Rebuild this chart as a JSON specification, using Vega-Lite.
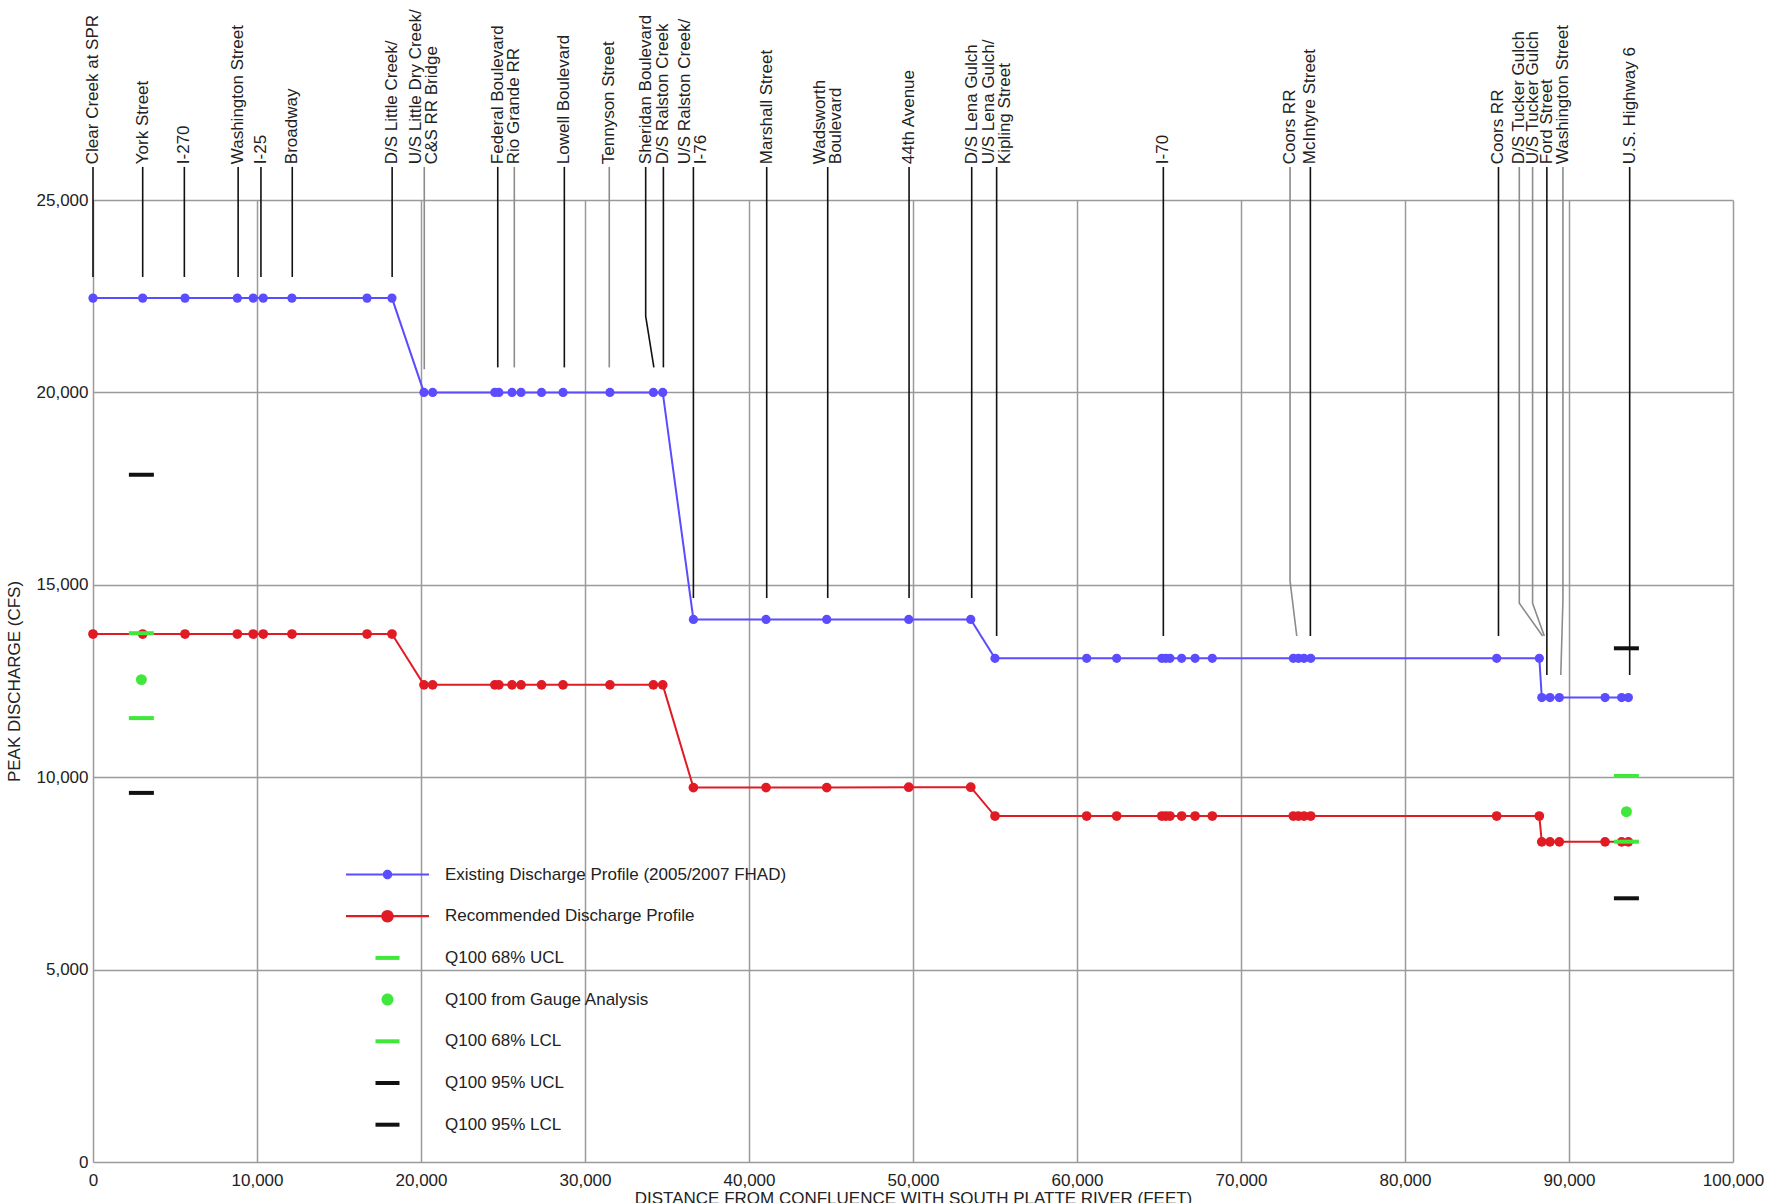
{
  "$schema": "https://vega.github.io/schema/vega-lite/v6.json",
  "width": 1640,
  "height": 962,
  "autosize": {"type": "none"},
  "padding": {"left": 93, "top": 200, "right": 43, "bottom": 41},
  "background": "white",
  "config": {
    "font": "Liberation Sans",
    "view": {"stroke": null},
    "axis": {
      "labelFont": "Liberation Sans",
      "labelFontSize": 17,
      "labelColor": "#222",
      "titleFont": "Liberation Sans",
      "titleFontSize": 17,
      "titleFontWeight": "normal",
      "titleColor": "#222",
      "grid": true,
      "gridColor": "#9a9a9a",
      "gridWidth": 1.5,
      "ticks": false,
      "domain": false
    }
  },
  "datasets": {
    "profiles": [
      {"series": "existing", "x": 0, "y": 22450}, {"series": "existing", "x": 3030, "y": 22450}, {"series": "existing", "x": 5610, "y": 22450},
      {"series": "existing", "x": 8800, "y": 22450}, {"series": "existing", "x": 9770, "y": 22450}, {"series": "existing", "x": 10380, "y": 22450},
      {"series": "existing", "x": 12130, "y": 22450}, {"series": "existing", "x": 16710, "y": 22450}, {"series": "existing", "x": 18230, "y": 22450},
      {"series": "existing", "x": 20180, "y": 20000}, {"series": "existing", "x": 20710, "y": 20000}, {"series": "existing", "x": 24500, "y": 20000},
      {"series": "existing", "x": 24750, "y": 20000}, {"series": "existing", "x": 25550, "y": 20000}, {"series": "existing", "x": 26100, "y": 20000},
      {"series": "existing", "x": 27350, "y": 20000}, {"series": "existing", "x": 28660, "y": 20000}, {"series": "existing", "x": 31520, "y": 20000},
      {"series": "existing", "x": 34170, "y": 20000}, {"series": "existing", "x": 34740, "y": 20000},
      {"series": "existing", "x": 36610, "y": 14100}, {"series": "existing", "x": 41040, "y": 14100}, {"series": "existing", "x": 44740, "y": 14100},
      {"series": "existing", "x": 49740, "y": 14100}, {"series": "existing", "x": 53520, "y": 14100},
      {"series": "existing", "x": 55000, "y": 13090}, {"series": "existing", "x": 60590, "y": 13090}, {"series": "existing", "x": 62420, "y": 13090},
      {"series": "existing", "x": 65170, "y": 13090}, {"series": "existing", "x": 65410, "y": 13090}, {"series": "existing", "x": 65670, "y": 13090},
      {"series": "existing", "x": 66380, "y": 13090}, {"series": "existing", "x": 67200, "y": 13090}, {"series": "existing", "x": 68250, "y": 13090},
      {"series": "existing", "x": 73190, "y": 13090}, {"series": "existing", "x": 73500, "y": 13090}, {"series": "existing", "x": 73840, "y": 13090},
      {"series": "existing", "x": 74250, "y": 13090}, {"series": "existing", "x": 85590, "y": 13090}, {"series": "existing", "x": 88190, "y": 13090},
      {"series": "existing", "x": 88340, "y": 12070}, {"series": "existing", "x": 88840, "y": 12070}, {"series": "existing", "x": 89410, "y": 12070},
      {"series": "existing", "x": 92200, "y": 12070}, {"series": "existing", "x": 93210, "y": 12070}, {"series": "existing", "x": 93620, "y": 12070},
      {"series": "recommended", "x": 0, "y": 13720}, {"series": "recommended", "x": 3030, "y": 13720}, {"series": "recommended", "x": 5610, "y": 13720},
      {"series": "recommended", "x": 8800, "y": 13720}, {"series": "recommended", "x": 9770, "y": 13720}, {"series": "recommended", "x": 10380, "y": 13720},
      {"series": "recommended", "x": 12130, "y": 13720}, {"series": "recommended", "x": 16710, "y": 13720}, {"series": "recommended", "x": 18230, "y": 13720},
      {"series": "recommended", "x": 20180, "y": 12400}, {"series": "recommended", "x": 20710, "y": 12400}, {"series": "recommended", "x": 24500, "y": 12400},
      {"series": "recommended", "x": 24750, "y": 12400}, {"series": "recommended", "x": 25550, "y": 12400}, {"series": "recommended", "x": 26100, "y": 12400},
      {"series": "recommended", "x": 27350, "y": 12400}, {"series": "recommended", "x": 28660, "y": 12400}, {"series": "recommended", "x": 31520, "y": 12400},
      {"series": "recommended", "x": 34170, "y": 12400}, {"series": "recommended", "x": 34740, "y": 12400},
      {"series": "recommended", "x": 36610, "y": 9730}, {"series": "recommended", "x": 41040, "y": 9730}, {"series": "recommended", "x": 44740, "y": 9730},
      {"series": "recommended", "x": 49740, "y": 9740}, {"series": "recommended", "x": 53520, "y": 9740},
      {"series": "recommended", "x": 55000, "y": 8990}, {"series": "recommended", "x": 60590, "y": 8990}, {"series": "recommended", "x": 62420, "y": 8990},
      {"series": "recommended", "x": 65170, "y": 8990}, {"series": "recommended", "x": 65410, "y": 8990}, {"series": "recommended", "x": 65670, "y": 8990},
      {"series": "recommended", "x": 66380, "y": 8990}, {"series": "recommended", "x": 67200, "y": 8990}, {"series": "recommended", "x": 68250, "y": 8990},
      {"series": "recommended", "x": 73190, "y": 8990}, {"series": "recommended", "x": 73500, "y": 8990}, {"series": "recommended", "x": 73840, "y": 8990},
      {"series": "recommended", "x": 74250, "y": 8990}, {"series": "recommended", "x": 85590, "y": 8990}, {"series": "recommended", "x": 88190, "y": 8990},
      {"series": "recommended", "x": 88340, "y": 8320}, {"series": "recommended", "x": 88840, "y": 8320}, {"series": "recommended", "x": 89410, "y": 8320},
      {"series": "recommended", "x": 92200, "y": 8320}, {"series": "recommended", "x": 93210, "y": 8320}, {"series": "recommended", "x": 93620, "y": 8320}
    ],
    "leaders": [
      {"id": 1, "tone": "black", "ord": 1, "x": 0, "y": 25860}, {"id": 1, "tone": "black", "ord": 2, "x": 0, "y": 23000},
      {"id": 2, "tone": "black", "ord": 1, "x": 3030, "y": 25860}, {"id": 2, "tone": "black", "ord": 2, "x": 3030, "y": 23000},
      {"id": 3, "tone": "black", "ord": 1, "x": 5570, "y": 25860}, {"id": 3, "tone": "black", "ord": 2, "x": 5570, "y": 23000},
      {"id": 4, "tone": "black", "ord": 1, "x": 8850, "y": 25860}, {"id": 4, "tone": "black", "ord": 2, "x": 8850, "y": 23000},
      {"id": 5, "tone": "black", "ord": 1, "x": 10240, "y": 25860}, {"id": 5, "tone": "black", "ord": 2, "x": 10240, "y": 23000},
      {"id": 6, "tone": "black", "ord": 1, "x": 12150, "y": 25860}, {"id": 6, "tone": "black", "ord": 2, "x": 12150, "y": 23000},
      {"id": 7, "tone": "black", "ord": 1, "x": 18240, "y": 25860}, {"id": 7, "tone": "black", "ord": 2, "x": 18240, "y": 23000},
      {"id": 8, "tone": "gray", "ord": 1, "x": 20200, "y": 25860}, {"id": 8, "tone": "gray", "ord": 2, "x": 20200, "y": 20600},
      {"id": 9, "tone": "black", "ord": 1, "x": 24680, "y": 25860}, {"id": 9, "tone": "black", "ord": 2, "x": 24680, "y": 20650},
      {"id": 10, "tone": "gray", "ord": 1, "x": 25690, "y": 25860}, {"id": 10, "tone": "gray", "ord": 2, "x": 25690, "y": 20650},
      {"id": 11, "tone": "black", "ord": 1, "x": 28740, "y": 25860}, {"id": 11, "tone": "black", "ord": 2, "x": 28740, "y": 20650},
      {"id": 12, "tone": "gray", "ord": 1, "x": 31480, "y": 25860}, {"id": 12, "tone": "gray", "ord": 2, "x": 31480, "y": 20650},
      {"id": 13, "tone": "black", "ord": 1, "x": 33700, "y": 25860}, {"id": 13, "tone": "black", "ord": 2, "x": 33700, "y": 21980}, {"id": 13, "tone": "black", "ord": 3, "x": 34200, "y": 20650},
      {"id": 14, "tone": "black", "ord": 1, "x": 34780, "y": 25860}, {"id": 14, "tone": "black", "ord": 2, "x": 34780, "y": 20650},
      {"id": 15, "tone": "black", "ord": 1, "x": 36610, "y": 25860}, {"id": 15, "tone": "black", "ord": 2, "x": 36610, "y": 14660},
      {"id": 16, "tone": "black", "ord": 1, "x": 41080, "y": 25860}, {"id": 16, "tone": "black", "ord": 2, "x": 41080, "y": 14660},
      {"id": 17, "tone": "black", "ord": 1, "x": 44800, "y": 25860}, {"id": 17, "tone": "black", "ord": 2, "x": 44800, "y": 14660},
      {"id": 18, "tone": "black", "ord": 1, "x": 49760, "y": 25860}, {"id": 18, "tone": "black", "ord": 2, "x": 49760, "y": 14660},
      {"id": 19, "tone": "black", "ord": 1, "x": 53580, "y": 25860}, {"id": 19, "tone": "black", "ord": 2, "x": 53580, "y": 14660},
      {"id": 20, "tone": "black", "ord": 1, "x": 55100, "y": 25860}, {"id": 20, "tone": "black", "ord": 2, "x": 55100, "y": 13670},
      {"id": 21, "tone": "black", "ord": 1, "x": 65265, "y": 25860}, {"id": 21, "tone": "black", "ord": 2, "x": 65265, "y": 13670},
      {"id": 22, "tone": "gray", "ord": 1, "x": 72990, "y": 25860}, {"id": 22, "tone": "gray", "ord": 2, "x": 72990, "y": 15100}, {"id": 22, "tone": "gray", "ord": 3, "x": 73400, "y": 13670},
      {"id": 23, "tone": "black", "ord": 1, "x": 74230, "y": 25860}, {"id": 23, "tone": "black", "ord": 2, "x": 74230, "y": 13670},
      {"id": 24, "tone": "black", "ord": 1, "x": 85700, "y": 25860}, {"id": 24, "tone": "black", "ord": 2, "x": 85700, "y": 13670},
      {"id": 25, "tone": "gray", "ord": 1, "x": 86970, "y": 25860}, {"id": 25, "tone": "gray", "ord": 2, "x": 86970, "y": 14520}, {"id": 25, "tone": "gray", "ord": 3, "x": 88390, "y": 13670},
      {"id": 26, "tone": "gray", "ord": 1, "x": 87780, "y": 25860}, {"id": 26, "tone": "gray", "ord": 2, "x": 87780, "y": 14520}, {"id": 26, "tone": "gray", "ord": 3, "x": 88495, "y": 13670},
      {"id": 27, "tone": "black", "ord": 1, "x": 88650, "y": 25860}, {"id": 27, "tone": "black", "ord": 2, "x": 88650, "y": 12656},
      {"id": 28, "tone": "gray", "ord": 1, "x": 89630, "y": 25860}, {"id": 28, "tone": "gray", "ord": 2, "x": 89630, "y": 14600}, {"id": 28, "tone": "gray", "ord": 3, "x": 89500, "y": 12656},
      {"id": 29, "tone": "black", "ord": 1, "x": 93700, "y": 25860}, {"id": 29, "tone": "black", "ord": 2, "x": 93700, "y": 12656}
    ],
    "labels": [
      {"label": "Clear Creek at SPR", "x": 0, "y": 25930},
      {"label": "York Street", "x": 3030, "y": 25930},
      {"label": "I-270", "x": 5570, "y": 25930},
      {"label": "Washington Street", "x": 8850, "y": 25930},
      {"label": "I-25", "x": 10240, "y": 25930},
      {"label": "Broadway", "x": 12150, "y": 25930},
      {"label": "D/S Little Creek/", "x": 18240, "y": 25930},
      {"label": "U/S Little Dry Creek/\nC&S RR Bridge", "x": 20200, "y": 25930},
      {"label": "Federal Boulevard", "x": 24680, "y": 25930},
      {"label": "Rio Grande RR", "x": 25690, "y": 25930},
      {"label": "Lowell Boulevard", "x": 28740, "y": 25930},
      {"label": "Tennyson Street", "x": 31480, "y": 25930},
      {"label": "Sheridan Boulevard", "x": 33700, "y": 25930},
      {"label": "D/S Ralston Creek", "x": 34780, "y": 25930},
      {"label": "U/S Ralston Creek/\nI-76", "x": 36610, "y": 25930},
      {"label": "Marshall Street", "x": 41080, "y": 25930},
      {"label": "Wadsworth\nBoulevard", "x": 44800, "y": 25930},
      {"label": "44th Avenue", "x": 49760, "y": 25930},
      {"label": "D/S Lena Gulch", "x": 53580, "y": 25930},
      {"label": "U/S Lena Gulch/\nKipling Street", "x": 55100, "y": 25930},
      {"label": "I-70", "x": 65265, "y": 25930},
      {"label": "Coors RR", "x": 72990, "y": 25930},
      {"label": "McIntyre Street", "x": 74230, "y": 25930},
      {"label": "Coors RR", "x": 85700, "y": 25930},
      {"label": "D/S Tucker Gulch", "x": 86970, "y": 25930},
      {"label": "U/S Tucker Gulch", "x": 87780, "y": 25930},
      {"label": "Ford Street", "x": 88650, "y": 25930},
      {"label": "Washington Street", "x": 89630, "y": 25930},
      {"label": "U.S. Highway 6", "x": 93700, "y": 25930}
    ],
    "confidence": [
      {"stat": "UCL95", "x": 2950, "y": 17860},
      {"stat": "UCL68", "x": 2950, "y": 13742},
      {"stat": "gauge", "x": 2950, "y": 12536},
      {"stat": "LCL68", "x": 2950, "y": 11536},
      {"stat": "LCL95", "x": 2950, "y": 9592},
      {"stat": "UCL95", "x": 93500, "y": 13350},
      {"stat": "UCL68", "x": 93500, "y": 10031},
      {"stat": "gauge", "x": 93500, "y": 9104},
      {"stat": "LCL68", "x": 93500, "y": 8324},
      {"stat": "LCL95", "x": 93500, "y": 6853}
    ],
    "legendItems": [
      {"series": "Existing Discharge Profile (2005/2007 FHAD)"},
      {"series": "Recommended Discharge Profile"},
      {"series": "Q100 68% UCL"},
      {"series": "Q100 from Gauge Analysis"},
      {"series": "Q100 68% LCL"},
      {"series": "Q100 95% UCL"},
      {"series": "Q100 95% LCL"}
    ]
  },
  "encoding": {
    "x": {
      "field": "x", "type": "quantitative",
      "scale": {"domain": [0, 100000], "nice": false, "zero": false},
      "axis": {
        "title": "DISTANCE FROM CONFLUENCE WITH SOUTH PLATTE RIVER (FEET)",
        "values": [0, 10000, 20000, 30000, 40000, 50000, 60000, 70000, 80000, 90000, 100000],
        "format": ",d", "labelPadding": 10, "titlePadding": 2, "labelFlush": false, "labelOverlap": false
      }
    },
    "y": {
      "field": "y", "type": "quantitative",
      "scale": {"domain": [0, 25000], "nice": false},
      "axis": {
        "title": "PEAK DISCHARGE (CFS)",
        "values": [0, 5000, 10000, 15000, 20000, 25000],
        "format": ",d", "labelPadding": 5, "titlePadding": 13, "labelFlush": false, "labelOverlap": false
      }
    }
  },
  "layer": [
    {
      "data": {"name": "leaders"},
      "transform": [{"filter": "datum.tone === 'gray'"}],
      "mark": {"type": "line", "color": "#8c8c8c", "strokeWidth": 1.6},
      "encoding": {"detail": {"field": "id", "type": "nominal"}, "order": {"field": "ord", "type": "quantitative"}}
    },
    {
      "data": {"name": "leaders"},
      "transform": [{"filter": "datum.tone === 'black'"}],
      "mark": {"type": "line", "color": "#111111", "strokeWidth": 1.6},
      "encoding": {"detail": {"field": "id", "type": "nominal"}, "order": {"field": "ord", "type": "quantitative"}}
    },
    {
      "data": {"name": "labels"},
      "transform": [{"filter": "indexof(datum.label, '\\n') < 0"}],
      "mark": {"type": "text", "angle": 270, "align": "left", "baseline": "middle", "font": "Liberation Sans", "fontSize": 17, "color": "#222"},
      "encoding": {
        "text": {"field": "label", "type": "nominal"}
      }
    },
    {
      "data": {"name": "labels"},
      "transform": [{"filter": "indexof(datum.label, '\\n') >= 0"}],
      "mark": {"type": "text", "angle": 270, "align": "left", "baseline": "middle", "font": "Liberation Sans", "fontSize": 17, "color": "#222", "lineBreak": "\n", "lineHeight": 16, "dy": -8},
      "encoding": {
        "text": {"field": "label", "type": "nominal"}
      }
    },
    {
      "data": {"name": "profiles"},
      "transform": [{"filter": "datum.series === 'existing'"}],
      "mark": {"type": "line", "color": "#5b4cff", "strokeWidth": 2, "point": {"filled": true, "size": 85, "color": "#5b4cff"}}
    },
    {
      "data": {"name": "profiles"},
      "transform": [{"filter": "datum.series === 'recommended'"}],
      "mark": {"type": "line", "color": "#e01b24", "strokeWidth": 2, "point": {"filled": true, "size": 95, "color": "#e01b24"}}
    },
    {
      "data": {"name": "confidence"},
      "transform": [{"filter": "datum.stat === 'UCL68' || datum.stat === 'LCL68'"}],
      "mark": {"type": "tick", "orient": "horizontal", "size": 25, "thickness": 4, "color": "#3fe83a", "opacity": 1}
    },
    {
      "data": {"name": "confidence"},
      "transform": [{"filter": "datum.stat === 'UCL95' || datum.stat === 'LCL95'"}],
      "mark": {"type": "tick", "orient": "horizontal", "size": 25, "thickness": 4, "color": "#111111", "opacity": 1}
    },
    {
      "data": {"name": "confidence"},
      "transform": [{"filter": "datum.stat === 'gauge'"}],
      "mark": {"type": "point", "shape": "circle", "filled": true, "size": 120, "color": "#3fe83a", "opacity": 1}
    },
    {
      "data": {"name": "legendItems"},
      "mark": {"type": "point", "filled": true, "opacity": 1},
      "encoding": {
        "color": {
          "field": "series", "type": "nominal",
          "scale": {
            "domain": ["Existing Discharge Profile (2005/2007 FHAD)", "Recommended Discharge Profile", "Q100 68% UCL", "Q100 from Gauge Analysis", "Q100 68% LCL", "Q100 95% UCL", "Q100 95% LCL"],
            "range": ["#5b4cff", "#e01b24", "#3fe83a", "#3fe83a", "#3fe83a", "#111111", "#111111"]
          },
          "legend": {
            "title": null, "orient": "none", "legendX": 286, "legendY": 666, "symbolSize": 100,
            "labelOffset": 49, "rowPadding": 23.7, "padding": 0, "labelFont": "Liberation Sans", "labelFontSize": 17,
            "labelColor": "#222", "labelLimit": 0, "symbolStrokeWidth": 0, "symbolOpacity": 1
          }
        },
        "shape": {
          "field": "series", "type": "nominal",
          "scale": {
            "domain": ["Existing Discharge Profile (2005/2007 FHAD)", "Recommended Discharge Profile", "Q100 68% UCL", "Q100 from Gauge Analysis", "Q100 68% LCL", "Q100 95% UCL", "Q100 95% LCL"],
            "range": [
              "M-8.3,-0.22H8.3V0.22H-8.3Z M0.95,0A0.95,0.95,0,1,1,-0.95,0A0.95,0.95,0,1,1,0.95,0Z",
              "M-8.3,-0.22H8.3V0.22H-8.3Z M1.25,0A1.25,1.25,0,1,1,-1.25,0A1.25,1.25,0,1,1,1.25,0Z",
              "M-2.4,-0.4H2.4V0.4H-2.4Z",
              "M1.2,0A1.2,1.2,0,1,1,-1.2,0A1.2,1.2,0,1,1,1.2,0Z",
              "M-2.4,-0.4H2.4V0.4H-2.4Z",
              "M-2.4,-0.4H2.4V0.4H-2.4Z",
              "M-2.4,-0.4H2.4V0.4H-2.4Z"
            ]
          },
          "legend": {
            "title": null, "orient": "none", "legendX": 286, "legendY": 666, "symbolSize": 100,
            "labelOffset": 49, "rowPadding": 23.7, "padding": 0, "labelFont": "Liberation Sans", "labelFontSize": 17,
            "labelColor": "#222", "labelLimit": 0, "symbolStrokeWidth": 0, "symbolOpacity": 1
          }
        }
      }
    }
  ]
}
